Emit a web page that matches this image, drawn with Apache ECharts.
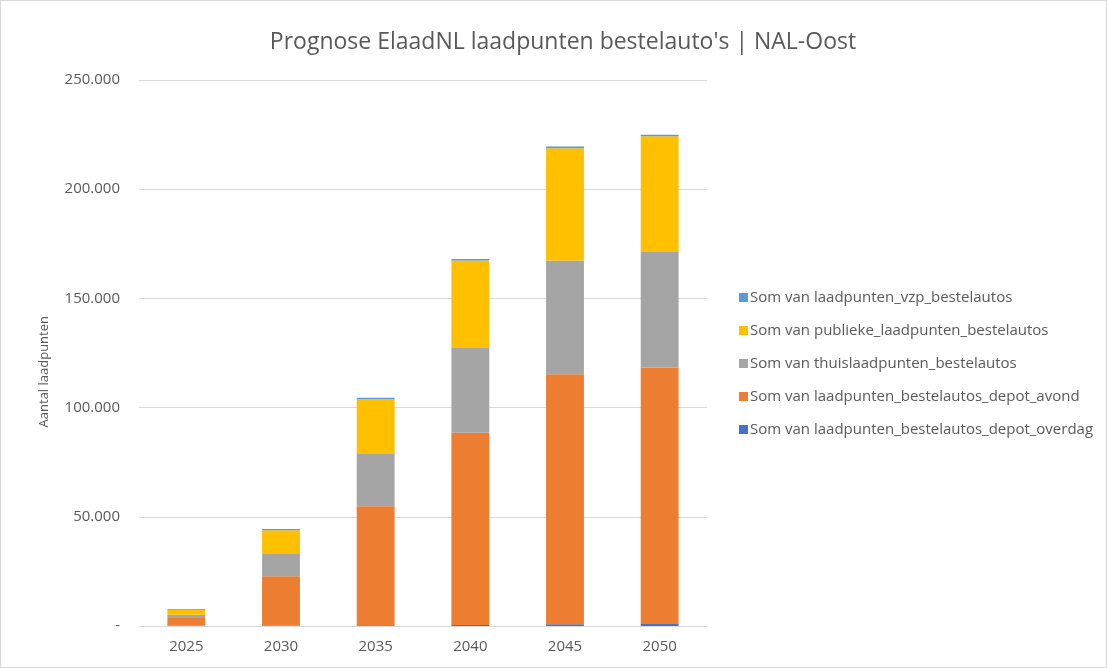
<!DOCTYPE html>
<html>
<head>
<meta charset="utf-8">
<script src="https://cdn.jsdelivr.net/npm/echarts@6/dist/echarts.min.js"></script>
<style>
  html, body { margin: 0; padding: 0; background: #fff; }
  #chart { width: 1107px; height: 668px; box-sizing: border-box; border: 1px solid #d9d9d9; }
</style>
</head>
<body>
<div id="chart"></div>
<script>
// jaren op de x-as
var jaren = ['2025', '2030', '2035', '2040', '2045', '2050'];

// waarden per reeks (van onder naar boven gestapeld)
var depotOverdag = [100, 200, 300, 500, 800, 900];
var depotAvond = [3600, 22600, 54500, 88000, 114500, 117500];
var thuisLaadpunten = [1400, 10500, 24300, 38800, 52000, 52800];
var publiekeLaadpunten = [2300, 10500, 24700, 40000, 51500, 53000];
var vzpLaadpunten = [400, 600, 700, 700, 700, 700];

var reeksNamen = [
  'Som van laadpunten_bestelautos_depot_overdag',
  'Som van laadpunten_bestelautos_depot_avond',
  'Som van thuislaadpunten_bestelautos',
  'Som van publieke_laadpunten_bestelautos',
  'Som van laadpunten_vzp_bestelautos'
];
var reeksData = [depotOverdag, depotAvond, thuisLaadpunten, publiekeLaadpunten, vzpLaadpunten];
var kleuren = ['#4472C4', '#ED7D31', '#A5A5A5', '#FFC000', '#5B9BD5'];

var fontFam = '"Open Sans", "Noto Sans", sans-serif';

let myChart = echarts.init(document.getElementById('chart'));

//getal met punt als duizendtal-scheiding, 0 wordt '-'
function fmt(v) {
  if (v === 0) return '-';
  return String(v).replace(/\B(?=(\d{3})+(?!\d))/g, '.');
}

myChart.setOption({
  backgroundColor: '#fff',
  animation: false,
  title: {
    text: "Prognose ElaadNL laadpunten bestelauto's | NAL-Oost",
    left: 557,
    textAlign: 'center',
    top: 25,
    textStyle: { color: '#595959', fontSize: 23, fontWeight: 'normal', fontFamily: fontFam }
  },
  legend: {
    orient: 'vertical',
    left: 733,
    top: 284,
    itemWidth: 9,
    itemHeight: 9,
    itemGap: 18,
    icon: 'rect',
    data: reeksNamen.slice().reverse(),
    textStyle: { color: '#595959', fontSize: 15, fontFamily: fontFam, padding: [0, 0, 0, -3] }
  },
  // as-titel apart gezet zodat hij net als in het origineel iets lager staat
  graphic: [{
    type: 'text',
    left: 37,
    top: 315,
    rotation: Math.PI / 2,
    style: { text: 'Aantal laadpunten', fill: '#595959', fontSize: 13, fontFamily: fontFam }
  }],
  grid: { left: 138, right: 399, top: 79, bottom: 41, containLabel: false },
  xAxis: {
    type: 'category',
    data: jaren,
    axisLine: { lineStyle: { color: '#d9d9d9' } },
    axisTick: { show: false },
    axisLabel: { color: '#595959', fontSize: 15, fontFamily: fontFam, margin: 13 }
  },
  yAxis: {
    type: 'value',
    min: 0,
    max: 250000,
    interval: 50000,
    axisLine: { show: false },
    axisTick: { show: false },
    splitLine: { lineStyle: { color: '#d9d9d9' } },
    axisLabel: { color: '#595959', fontSize: 15, fontFamily: fontFam, margin: 19, formatter: fmt }
  },
  series: reeksNamen.map(function (naam, i) {
    return {
      name: naam,
      type: 'bar',
      stack: 'totaal',
      barWidth: '40%',
      data: reeksData[i],
      itemStyle: { color: kleuren[i] }
    };
  })
});
</script>
</body>
</html>
